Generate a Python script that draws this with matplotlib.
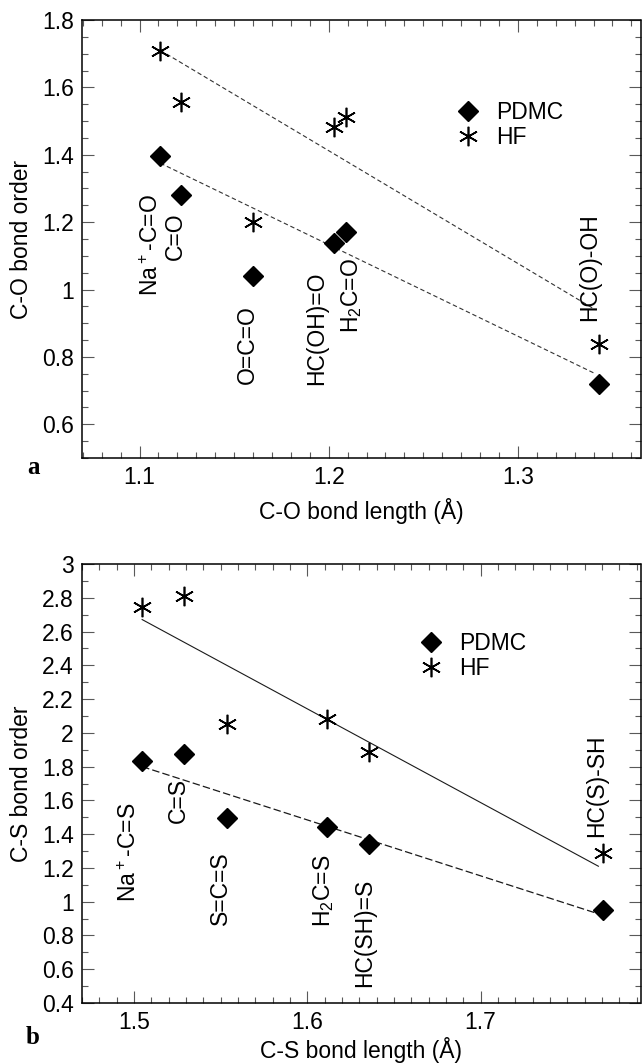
import matplotlib
matplotlib.use("Agg")
import matplotlib.pyplot as plt
from matplotlib.ticker import MultipleLocator

plt.rcParams['font.family'] = ['Liberation Sans', 'DejaVu Sans']
plt.rcParams['mathtext.default'] = 'regular'

# ---------------- Panel a: C-O ----------------
co_length = [1.111, 1.122, 1.160, 1.203, 1.209, 1.343]
co_pdmc = [1.395, 1.281, 1.040, 1.138, 1.170, 0.719]
co_hf = [1.709, 1.556, 1.199, 1.481, 1.511, 0.838]
co_names = ['Na$^+$-C=O', 'C=O', 'O=C=O', 'HC(OH)=O', 'H$_2$C=O', 'HC(O)-OH']
co_label_x = [1.1065, 1.119, 1.157, 1.1935, 1.212, 1.338]
co_label_y = [1.132, 1.159, 0.838, 0.886, 0.981, 1.067]
co_fit_x = [1.111, 1.341]
co_fit_hf = [1.710, 0.940]
co_fit_pdmc = [1.375, 0.750]

# ---------------- Panel b: C-S ----------------
cs_length = [1.5047, 1.5289, 1.5535, 1.6114, 1.6356, 1.7705]
cs_pdmc = [1.832, 1.873, 1.495, 1.441, 1.339, 0.953]
cs_hf = [2.743, 2.811, 2.052, 2.081, 1.884, 1.288]
cs_names = ['Na$^+$-C=S', 'C=S', 'S=C=S', 'H$_2$C=S', 'HC(SH)=S', 'HC(S)-SH']
cs_label_x = [1.4975, 1.5258, 1.550, 1.6095, 1.6331, 1.7670]
cs_label_y = [1.294, 1.602, 1.078, 1.067, 0.818, 1.684]
cs_fit_x = [1.5047, 1.7680]
cs_fit_hf = [2.671, 1.210]
cs_fit_pdmc = [1.800, 0.928]

W, H = 642, 1063
fig = plt.figure(figsize=(W / 100, H / 100), dpi=100)

FS = 16.5


def make_axes(top_px, bottom_px):
    left, right = 82, 640.5
    return fig.add_axes([left / W, 1 - bottom_px / H, (right - left) / W, (bottom_px - top_px) / H])


def style_axes(ax, xmaj, xmin, ymaj, ymin):
    ax.xaxis.set_major_locator(MultipleLocator(xmaj))
    ax.xaxis.set_minor_locator(MultipleLocator(xmin))
    ax.yaxis.set_major_locator(MultipleLocator(ymaj))
    ax.yaxis.set_minor_locator(MultipleLocator(ymin))
    ax.tick_params(which='both', direction='in', top=True, right=True,
                   color='0.35', width=0.8, labelsize=FS)
    ax.tick_params(which='major', length=8.5)
    ax.tick_params(which='minor', length=4.3)
    ax.tick_params(axis='x', which='major', pad=6)
    ax.tick_params(axis='y', which='major', pad=6)
    for s in ax.spines.values():
        s.set_linewidth(1.1)
        s.set_color('black')


def fmt(v, pos):
    return '%g' % v


# Panel a
axa = make_axes(20, 458)
axa.set_xlim(1.0696, 1.3648)
axa.set_ylim(0.5, 1.8)
style_axes(axa, 0.1, 0.01, 0.2, 0.05)
axa.yaxis.set_major_formatter(plt.FuncFormatter(fmt))
axa.xaxis.set_major_formatter(plt.FuncFormatter(fmt))
axa.plot(co_fit_x, co_fit_hf, color='0.2', lw=0.8, ls=(0, (4, 2.5)))
axa.plot(co_fit_x, co_fit_pdmc, color='0.2', lw=0.8, ls=(0, (4, 2.5)))
axa.plot(co_length, co_pdmc, ls='none', marker='D', ms=10.5, color='black', label='PDMC')
axa.plot(co_length, co_hf, ls='none', marker=(6, 2, 0), ms=14, mew=1.2, color='black', label='HF')
for n, x, y in zip(co_names, co_label_x, co_label_y):
    axa.text(x, y, n, rotation=90, ha='center', va='center', fontsize=FS)
axa.set_xlabel('C-O bond length (Å)', fontsize=FS, labelpad=6)
axa.set_ylabel('C-O bond order', fontsize=FS, labelpad=6)
axa.legend(loc='upper left', bbox_to_anchor=(0.671, 0.815), frameon=False, fontsize=FS,
           handlelength=1.0, handletextpad=0.7, labelspacing=0.1, borderpad=0, borderaxespad=0)

# Panel b
axb = make_axes(564, 1003)
axb.set_xlim(1.470, 1.7923)
axb.set_ylim(0.4, 3.0)
style_axes(axb, 0.1, 0.01, 0.2, 0.1)
axb.yaxis.set_major_formatter(plt.FuncFormatter(fmt))
axb.xaxis.set_major_formatter(plt.FuncFormatter(fmt))
axb.plot(cs_fit_x, cs_fit_hf, color='0.1', lw=0.8, ls='-')
axb.plot(cs_fit_x, cs_fit_pdmc, color='0.1', lw=0.9, ls=(0, (6, 2.5)))
axb.plot(cs_length, cs_pdmc, ls='none', marker='D', ms=10.5, color='black', label='PDMC')
axb.plot(cs_length, cs_hf, ls='none', marker=(6, 2, 0), ms=14, mew=1.2, color='black', label='HF')
for n, x, y in zip(cs_names, cs_label_x, cs_label_y):
    axb.text(x, y, n, rotation=90, ha='center', va='center', fontsize=FS)
axb.set_xlabel('C-S bond length (Å)', fontsize=FS, labelpad=2)
axb.set_ylabel('C-S bond order', fontsize=FS, labelpad=6)
axb.legend(loc='upper left', bbox_to_anchor=(0.605, 0.845), frameon=False, fontsize=FS,
           handlelength=1.0, handletextpad=0.7, labelspacing=0.1, borderpad=0, borderaxespad=0)

# panel letters
fig.text(33 / W, 1 - 468 / H, 'a', fontsize=18, fontweight='bold',
         family=['Liberation Serif', 'DejaVu Serif'], ha='center', va='center')
fig.text(33 / W, 1 - 1038 / H, 'b', fontsize=18, fontweight='bold',
         family=['Liberation Serif', 'DejaVu Serif'], ha='center', va='center')

fig.savefig('out.png', dpi=100)
